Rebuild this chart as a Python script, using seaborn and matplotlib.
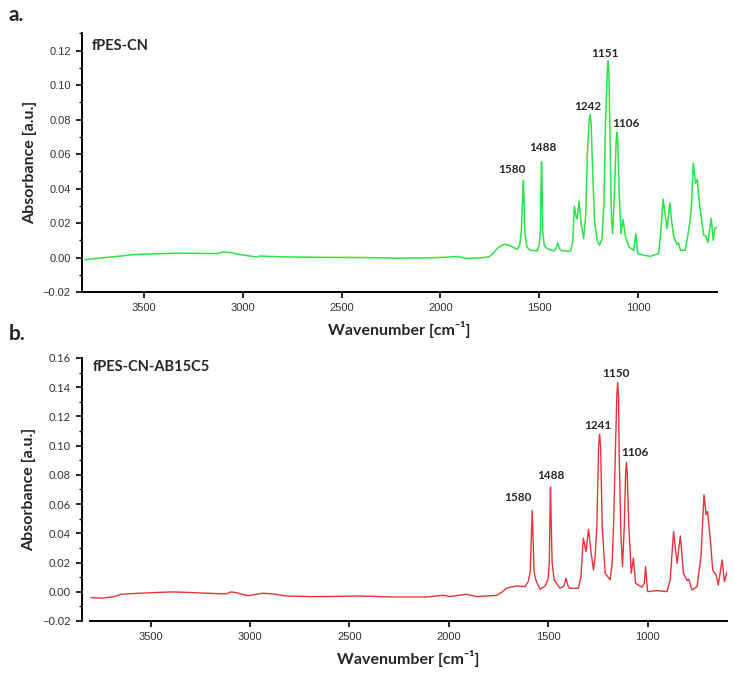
import numpy as np
import pandas as pd
import seaborn as sns
import matplotlib.pyplot as plt
from matplotlib.ticker import MultipleLocator

# spectrum a: fPES-CN (wavenumber, absorbance)
a_wn = [3800, 3760, 3692, 3620, 3558, 3450, 3334, 3230, 3132, 3098, 3064, 3014,
        2960, 2929, 2912, 2878, 2800, 2744, 2600, 2406, 2300, 2237, 2150, 2068,
        1980, 1916, 1890, 1865, 1800, 1756, 1735, 1713, 1690, 1671, 1646, 1625,
        1610, 1598, 1590, 1584, 1580, 1576, 1572, 1562, 1545, 1511, 1500, 1494,
        1491, 1488, 1485, 1482, 1474, 1460, 1427, 1415, 1406, 1397, 1385, 1342,
        1330, 1322, 1314, 1308, 1298, 1288, 1275, 1264, 1256, 1247, 1242, 1237,
        1232, 1220, 1207, 1195, 1182, 1172, 1164, 1155, 1151, 1147, 1143, 1134,
        1128, 1118, 1110, 1106, 1102, 1096, 1086, 1075, 1063, 1045, 1021, 1011,
        1001, 971, 937, 895, 884, 873, 860, 852, 839, 828, 819, 802, 795, 785,
        760, 738, 729, 720, 709, 700, 687, 667, 656, 646, 629, 619, 611, 600]
a_abs = [-0.0013, -0.0008, 0.0, 0.0008, 0.0017, 0.0021, 0.0025, 0.0024, 0.0023,
         0.0032, 0.0029, 0.0017, 0.0008, 0.0003, 0.0009, 0.0007, 0.0004, 0.0003,
         0.0001, 0.0, -0.0002, -0.0004, -0.0003, -0.0002, 0.0001, 0.0006, 0.0,
         -0.0006, -0.0002, 0.0003, 0.0022, 0.0052, 0.0070, 0.0077, 0.0067, 0.0055,
         0.0048, 0.0075, 0.0160, 0.0330, 0.0445, 0.0310, 0.0140, 0.0060, 0.0042,
         0.0038, 0.0070, 0.0150, 0.0400, 0.0555, 0.0390, 0.0150, 0.0070, 0.0052,
         0.0038, 0.0050, 0.0085, 0.0050, 0.0040, 0.0036, 0.0090, 0.0298, 0.0240,
         0.0225, 0.0327, 0.0200, 0.0110, 0.0250, 0.0600, 0.0790, 0.0830, 0.0780,
         0.0600, 0.0217, 0.0100, 0.0071, 0.0110, 0.0314, 0.0798, 0.1080, 0.1140,
         0.1070, 0.0798, 0.0217, 0.0139, 0.0410, 0.0680, 0.0724, 0.0670, 0.0410,
         0.0139, 0.0220, 0.0120, 0.0060, 0.0042, 0.0139, 0.0023, 0.0013, 0.0007,
         0.0023, 0.0150, 0.0339, 0.0230, 0.0168, 0.0317, 0.0200, 0.0120, 0.0077,
         0.0085, 0.0042, 0.0042, 0.0197, 0.0300, 0.0546, 0.0430, 0.0453, 0.0294,
         0.0129, 0.0125, 0.0085, 0.0227, 0.0100, 0.0168, 0.0178]

# spectrum b: fPES-CN-AB15C5
b_wn = [3800, 3742, 3683, 3649, 3557, 3470, 3389, 3300, 3221, 3120, 3095, 3070,
        3011, 2936, 2885, 2817, 2700, 2616, 2448, 2280, 2112, 2028, 1994, 1910,
        1860, 1759, 1735, 1709, 1692, 1659, 1616, 1600, 1590, 1584, 1580, 1576,
        1571, 1562, 1541, 1515, 1500, 1494, 1491, 1488, 1485, 1480, 1470, 1440,
        1420, 1410, 1400, 1393, 1348, 1335, 1323, 1310, 1297, 1285, 1272, 1263,
        1255, 1246, 1241, 1236, 1228, 1213, 1188, 1178, 1171, 1161, 1154, 1150,
        1146, 1142, 1134, 1126, 1117, 1110, 1106, 1102, 1094, 1082, 1071, 1060,
        1028, 1016, 1010, 1000, 953, 902, 886, 869, 860, 851, 835, 819, 801,
        793, 776, 751, 731, 716, 705, 698, 684, 672, 655, 644, 625, 613, 600]
b_abs = [-0.0040, -0.0044, -0.0033, -0.0017, -0.0010, -0.0005, -0.0001, -0.0005,
         -0.0010, -0.0015, -0.0001, -0.0006, -0.0027, -0.0010, -0.0015, -0.0029,
         -0.0033, -0.0033, -0.0029, -0.0036, -0.0036, -0.0024, -0.0033, -0.0017,
         -0.0033, -0.0025, -0.0005, 0.0024, 0.0030, 0.0040, 0.0035, 0.0070, 0.0140,
         0.0400, 0.0556, 0.0380, 0.0140, 0.0081, 0.0017, 0.0040, 0.0090, 0.0200,
         0.0520, 0.0716, 0.0500, 0.0200, 0.0081, 0.0024, 0.0040, 0.0093, 0.0040,
         0.0024, 0.0024, 0.0100, 0.0367, 0.0275, 0.0428, 0.0280, 0.0149, 0.0250,
         0.0446, 0.1000, 0.1079, 0.0990, 0.0446, 0.0127, 0.0081, 0.0200, 0.0446,
         0.1000, 0.1360, 0.1433, 0.1340, 0.0900, 0.0400, 0.0172, 0.0446, 0.0820,
         0.0885, 0.0810, 0.0446, 0.0127, 0.0230, 0.0058, 0.0031, 0.0060, 0.0172,
         0.0001, 0.0008, 0.0001, 0.0081, 0.0412, 0.0300, 0.0195, 0.0382, 0.0127,
         0.0076, 0.0086, 0.0012, 0.0035, 0.0241, 0.0663, 0.0526, 0.0549, 0.0355,
         0.0149, 0.0115, 0.0047, 0.0218, 0.0069, 0.0138]

a_peaks = [1580, 1488, 1242, 1151, 1106]
b_peaks = [1580, 1488, 1241, 1150, 1106]

sns.set_theme(style="ticks")
plt.rcParams['font.family'] = ['Lato', 'DejaVu Sans']

fig = plt.figure(figsize=(7.34, 6.78), dpi=100)
ax1 = fig.add_axes([0.1117, 0.5693, 0.8651, 0.3816])
ax2 = fig.add_axes([0.1226, 0.0841, 0.8679, 0.3879])

df_a = pd.DataFrame({'wn': a_wn, 'abs': a_abs})
df_b = pd.DataFrame({'wn': b_wn, 'abs': b_abs})

sns.lineplot(data=df_a, x='wn', y='abs', ax=ax1, color='#2ae546', lw=1.1)
sns.lineplot(data=df_b, x='wn', y='abs', ax=ax2, color='#e8323a', lw=1.0)


def style_axis(ax, ylim):
    ax.set_ylim(*ylim)
    ax.yaxis.set_major_locator(MultipleLocator(0.02))
    ax.yaxis.set_minor_locator(MultipleLocator(0.01))
    ax.xaxis.set_major_locator(MultipleLocator(500))
    ax.yaxis.set_major_formatter(plt.FuncFormatter(lambda v, p: f'{v:.2f}'.replace('-', '\u2212')))
    for s in ['top', 'right']:
        ax.spines[s].set_visible(False)
    for s in ['left', 'bottom']:
        ax.spines[s].set_linewidth(1.4)
        ax.spines[s].set_color('black')
    ax.tick_params(which='major', direction='out', length=4, width=1.2,
                   color='black', labelsize=8, labelcolor='#333333', pad=4)
    ax.tick_params(which='minor', direction='out', length=2.2, width=1.0, color='black')
    for lab in ax.get_xticklabels() + ax.get_yticklabels():
        lab.set_family('Liberation Sans')
    ax.set_xlabel('Wavenumber [cm\u207b\u00b9]', fontsize=11.5, fontweight='bold', labelpad=6)
    ax.set_ylabel('Absorbance [a.u.]', fontsize=11.5, fontweight='bold', labelpad=4)


ax1.set_xlim(3814, 600)
style_axis(ax1, (-0.02, 0.13))
ax2.set_xlim(3805, 600)
style_axis(ax2, (-0.02, 0.16))
ax2.spines['left'].set_position(('outward', 6))

# peak labels
a_off = [(-8.5, 8), (0.7, 10), (-2, 6), (-2.5, 5), (6.5, 6.5)]
b_off = [(-10, 9.5), (0, 8.5), (-1.5, 6.5), (-1, 6.5), (6, 7)]
for ax, peaks, wn, ab, offs in [(ax1, a_peaks, a_wn, a_abs, a_off),
                                (ax2, b_peaks, b_wn, b_abs, b_off)]:
    for p, off in zip(peaks, offs):
        y = ab[wn.index(p)]
        ax.annotate(str(p), (p, y), xytext=off, textcoords='offset points',
                    ha='center', va='center', fontsize=8.5, fontweight='bold')

ax1.text(0.015, 0.95, 'fPES-CN', transform=ax1.transAxes, fontsize=10.5,
         fontweight='bold', va='center')
ax2.text(0.005, 0.965, 'fPES-CN-AB15C5', transform=ax2.transAxes, fontsize=10.5,
         fontweight='bold', va='center')

fig.text(0.012, 0.978, 'a.', fontsize=15, fontweight='bold', va='center')
fig.text(0.012, 0.508, 'b.', fontsize=15, fontweight='bold', va='center')

fig.savefig('out.png', dpi=100)
